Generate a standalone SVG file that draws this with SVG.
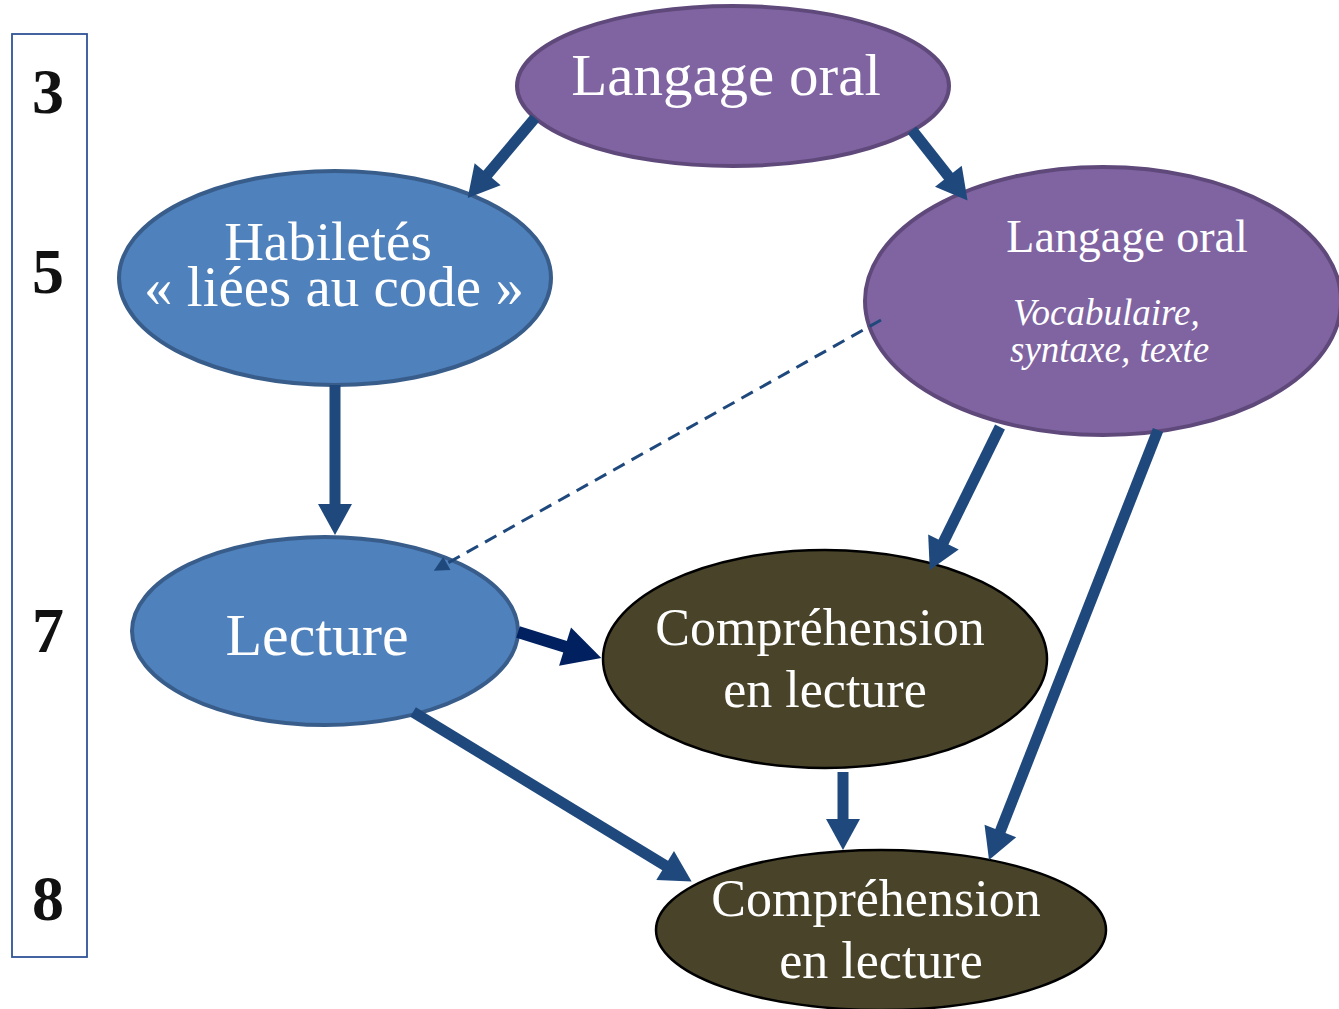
<svg xmlns="http://www.w3.org/2000/svg" width="1339" height="1009" viewBox="0 0 1339 1009">
  <style>
    .txt { font-family: "Liberation Serif", "DejaVu Serif", serif; fill: #ffffff; text-anchor: middle; }
    .txt-left { font-family: "Liberation Serif", "DejaVu Serif", serif; fill: #ffffff; text-anchor: start; font-style: italic; font-size: 37px; }
    .age { font-family: "Liberation Serif", "DejaVu Serif", serif; font-weight: bold; font-size: 64px; fill: #111111; text-anchor: middle; }
    .purple { fill: #8064a2; stroke: #5f497a; stroke-width: 4; }
    .blue { fill: #4f81bd; stroke: #385d8a; stroke-width: 4; }
    .olive { fill: #494429; stroke: #000000; stroke-width: 2.5; }
    .link { fill: none; stroke: #1f497d; stroke-width: 11; }
    .link-dark { fill: none; stroke: #002060; stroke-width: 12; }
    .link-dash { fill: none; stroke: #1f497d; stroke-width: 3; stroke-dasharray: 13 8; }
  </style>
  <defs>
    <marker id="head" markerUnits="userSpaceOnUse" markerWidth="32" markerHeight="36" refX="1" refY="17" orient="auto" overflow="visible">
      <path d="M0,0 L31,17 L0,34 z" fill="#1f497d"/>
    </marker>
    <marker id="head-dark" markerUnits="userSpaceOnUse" markerWidth="40" markerHeight="42" refX="1" refY="20" orient="auto" overflow="visible">
      <path d="M0,0 L38,20 L0,40 z" fill="#002060"/>
    </marker>
    <marker id="head-small" markerUnits="userSpaceOnUse" markerWidth="16" markerHeight="16" refX="1" refY="7.5" orient="auto" overflow="visible">
      <path d="M0,0 L15,7.5 L0,15 z" fill="#1f497d"/>
    </marker>
  </defs>

  <!-- age scale -->
  <g id="age-scale">
    <rect x="12" y="34" width="75" height="923" fill="#ffffff" stroke="#2f5496" stroke-width="1.8"/>
    <text class="age" x="48" y="113">3</text>
    <text class="age" x="48" y="293">5</text>
    <text class="age" x="48" y="652">7</text>
    <text class="age" x="48" y="920">8</text>
  </g>

  <!-- nodes -->
  <g id="oral-3">
    <ellipse class="purple" cx="733" cy="86" rx="216" ry="80"/>
    <text class="txt" x="726" y="95" font-size="59">Langage oral</text>
  </g>

  <g id="code-skills">
    <ellipse class="blue" cx="335" cy="278" rx="216" ry="107"/>
    <text class="txt" x="328" y="260" font-size="55">Habiletés</text>
    <text class="txt" x="334" y="306" font-size="57">« liées au code »</text>
  </g>

  <g id="oral-5">
    <ellipse class="purple" cx="1103" cy="301" rx="238" ry="134"/>
    <text class="txt" x="1127" y="252" font-size="46">Langage oral</text>
    <text class="txt-left" x="1013" y="325">Vocabulaire,</text>
    <text class="txt-left" x="1010" y="362">syntaxe, texte</text>
  </g>

  <g id="reading">
    <ellipse class="blue" cx="325" cy="631" rx="193" ry="94"/>
    <text class="txt" x="317" y="655" font-size="60">Lecture</text>
  </g>

  <g id="comprehension-7">
    <ellipse class="olive" cx="825" cy="659" rx="222" ry="109"/>
    <text class="txt" x="820" y="645" font-size="52">Compréhension</text>
    <text class="txt" x="825" y="707" font-size="52">en lecture</text>
  </g>

  <g id="comprehension-8">
    <ellipse class="olive" cx="881" cy="930" rx="225" ry="80"/>
    <text class="txt" x="876" y="916" font-size="52">Compréhension</text>
    <text class="txt" x="881" y="978" font-size="52">en lecture</text>
  </g>

  <!-- connectors -->
  <g id="connectors">
    <line class="link" x1="535" y1="118" x2="487" y2="175" marker-end="url(#head)"/>
    <line class="link" x1="912" y1="130" x2="949" y2="177" marker-end="url(#head)"/>
    <line class="link" x1="335" y1="385" x2="335" y2="505" marker-end="url(#head)"/>
    <line class="link-dash" x1="881" y1="320" x2="446" y2="564" marker-end="url(#head-small)"/>
    <line class="link-dark" x1="518" y1="632" x2="566" y2="647" marker-end="url(#head-dark)"/>
    <line class="link" x1="413" y1="712" x2="666" y2="866" marker-end="url(#head)"/>
    <line class="link" x1="1000" y1="427" x2="943" y2="543" marker-end="url(#head)"/>
    <line class="link" x1="1158" y1="430" x2="1000" y2="832" marker-end="url(#head)"/>
    <line class="link" x1="843" y1="772" x2="843" y2="820" marker-end="url(#head)"/>
  </g>
</svg>
